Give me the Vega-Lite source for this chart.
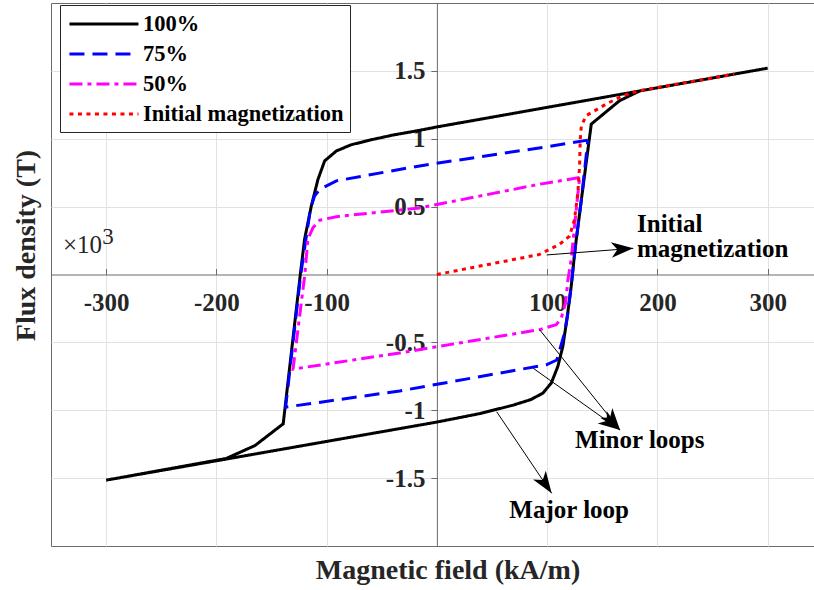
{
  "$schema": "https://vega.github.io/schema/vega-lite/v6.json",
  "width": 763,
  "height": 543,
  "autosize": {"type": "none"},
  "padding": {"left": 51, "top": 3, "right": 0, "bottom": 44},
  "config": {
    "view": {"stroke": "#6b6b6b", "strokeWidth": 1},
    "font": "Liberation Serif"
  },
  "layer": [
    {
      "data": {
        "values": [
          {"s": "100%", "i": 1, "x": 300, "y": 1.52},
          {"s": "100%", "i": 2, "x": 183.8, "y": 1.352},
          {"s": "100%", "i": 3, "x": 0, "y": 1.087},
          {"s": "100%", "i": 4, "x": -15.7, "y": 1.062},
          {"s": "100%", "i": 5, "x": -40, "y": 1.027},
          {"s": "100%", "i": 6, "x": -61, "y": 0.99},
          {"s": "100%", "i": 7, "x": -78, "y": 0.955},
          {"s": "100%", "i": 8, "x": -91.2, "y": 0.91},
          {"s": "100%", "i": 9, "x": -101.8, "y": 0.837},
          {"s": "100%", "i": 10, "x": -107.9, "y": 0.7},
          {"s": "100%", "i": 11, "x": -113.9, "y": 0.505},
          {"s": "100%", "i": 12, "x": -120, "y": 0.26},
          {"s": "100%", "i": 13, "x": -123.9, "y": 0.0},
          {"s": "100%", "i": 14, "x": -139.4, "y": -1.1},
          {"s": "100%", "i": 15, "x": -165, "y": -1.26},
          {"s": "100%", "i": 16, "x": -191, "y": -1.355},
          {"s": "100%", "i": 17, "x": -300, "y": -1.515},
          {"s": "100%", "i": 18, "x": 0, "y": -1.087},
          {"s": "100%", "i": 19, "x": 38.7, "y": -1.025},
          {"s": "100%", "i": 20, "x": 68.9, "y": -0.963},
          {"s": "100%", "i": 21, "x": 85, "y": -0.922},
          {"s": "100%", "i": 22, "x": 96.1, "y": -0.874},
          {"s": "100%", "i": 23, "x": 103.7, "y": -0.8},
          {"s": "100%", "i": 24, "x": 109.7, "y": -0.677},
          {"s": "100%", "i": 25, "x": 114.2, "y": -0.53},
          {"s": "100%", "i": 26, "x": 117.9, "y": -0.33},
          {"s": "100%", "i": 27, "x": 121.8, "y": -0.086},
          {"s": "100%", "i": 28, "x": 125.5, "y": 0.2},
          {"s": "100%", "i": 29, "x": 131, "y": 0.55},
          {"s": "100%", "i": 30, "x": 140, "y": 1.108},
          {"s": "100%", "i": 31, "x": 165.6, "y": 1.28},
          {"s": "100%", "i": 32, "x": 183.8, "y": 1.352},
          {"s": "100%", "i": 33, "x": 300, "y": 1.52},

          {"s": "75%", "i": 1, "x": 136.9, "y": 0.99},
          {"s": "75%", "i": 2, "x": 105.4, "y": 0.948},
          {"s": "75%", "i": 3, "x": -15.7, "y": 0.8},
          {"s": "75%", "i": 4, "x": -91.2, "y": 0.69},
          {"s": "75%", "i": 5, "x": -106.3, "y": 0.628},
          {"s": "75%", "i": 6, "x": -111, "y": 0.578},
          {"s": "75%", "i": 7, "x": -114.8, "y": 0.48},
          {"s": "75%", "i": 8, "x": -119.5, "y": 0.22},
          {"s": "75%", "i": 9, "x": -123.5, "y": 0.0},
          {"s": "75%", "i": 10, "x": -137.2, "y": -0.977},
          {"s": "75%", "i": 11, "x": -33.8, "y": -0.858},
          {"s": "75%", "i": 12, "x": 99.2, "y": -0.665},
          {"s": "75%", "i": 13, "x": 108.7, "y": -0.63},
          {"s": "75%", "i": 14, "x": 115.8, "y": -0.43},
          {"s": "75%", "i": 15, "x": 118.8, "y": -0.283},
          {"s": "75%", "i": 16, "x": 121.8, "y": -0.086},
          {"s": "75%", "i": 17, "x": 125.5, "y": 0.2},
          {"s": "75%", "i": 18, "x": 131, "y": 0.55},
          {"s": "75%", "i": 19, "x": 136.9, "y": 0.99},

          {"s": "50%", "i": 1, "x": 129.4, "y": 0.714},
          {"s": "50%", "i": 2, "x": 93.1, "y": 0.665},
          {"s": "50%", "i": 3, "x": -15.7, "y": 0.49},
          {"s": "50%", "i": 4, "x": -91.2, "y": 0.426},
          {"s": "50%", "i": 5, "x": -106.3, "y": 0.4},
          {"s": "50%", "i": 6, "x": -112.4, "y": 0.345},
          {"s": "50%", "i": 7, "x": -117, "y": 0.26},
          {"s": "50%", "i": 8, "x": -119.8, "y": 0.0},
          {"s": "50%", "i": 9, "x": -130.5, "y": -0.697},
          {"s": "50%", "i": 10, "x": -33.8, "y": -0.578},
          {"s": "50%", "i": 11, "x": 93.1, "y": -0.406},
          {"s": "50%", "i": 12, "x": 108.2, "y": -0.37},
          {"s": "50%", "i": 13, "x": 112.8, "y": -0.32},
          {"s": "50%", "i": 14, "x": 116.7, "y": -0.21},
          {"s": "50%", "i": 15, "x": 118.8, "y": -0.04},
          {"s": "50%", "i": 16, "x": 121.8, "y": 0.11},
          {"s": "50%", "i": 17, "x": 126, "y": 0.45},
          {"s": "50%", "i": 18, "x": 129.4, "y": 0.714},

          {"s": "Initial magnetization", "i": 1, "x": 0, "y": 0},
          {"s": "Initial magnetization", "i": 2, "x": 93.1, "y": 0.148},
          {"s": "Initial magnetization", "i": 3, "x": 111.2, "y": 0.222},
          {"s": "Initial magnetization", "i": 4, "x": 120.3, "y": 0.283},
          {"s": "Initial magnetization", "i": 5, "x": 124.8, "y": 0.406},
          {"s": "Initial magnetization", "i": 6, "x": 127.8, "y": 0.6},
          {"s": "Initial magnetization", "i": 7, "x": 129.4, "y": 0.8},
          {"s": "Initial magnetization", "i": 8, "x": 130, "y": 0.997},
          {"s": "Initial magnetization", "i": 9, "x": 131, "y": 1.095},
          {"s": "Initial magnetization", "i": 10, "x": 135.4, "y": 1.17},
          {"s": "Initial magnetization", "i": 11, "x": 153.6, "y": 1.256},
          {"s": "Initial magnetization", "i": 12, "x": 168.6, "y": 1.317},
          {"s": "Initial magnetization", "i": 13, "x": 183.8, "y": 1.354},
          {"s": "Initial magnetization", "i": 14, "x": 269.7, "y": 1.477}
        ]
      },
      "mark": {"type": "line", "strokeWidth": 3, "clip": true},
      "encoding": {
        "x": {
          "field": "x",
          "type": "quantitative",
          "scale": {"domain": [-350, 342], "nice": false, "zero": false},
          "axis": {
            "title": "Magnetic field (kA/m)",
            "values": [-300, -200, -100, 100, 200, 300],
            "labelExpr": "'' + datum.value",
            "offset": -271.5,
            "grid": true,
            "gridColor": "#e2e2e2",
            "gridWidth": 1,
            "domainColor": "#6b6b6b",
            "domainWidth": 1,
            "tickColor": "#6b6b6b",
            "tickSize": -6,
            "labelFont": "Liberation Serif",
            "labelFontSize": 25,
            "labelFontWeight": "bold",
            "labelColor": "#262626",
            "labelBaseline": "alphabetic",
            "labelPadding": 41.5,
            "labelFlush": false,
            "labelOverlap": false,
            "titleFont": "Liberation Serif",
            "titleFontSize": 28,
            "titleFontWeight": "bold",
            "titleColor": "#262626",
            "titleX": 396.5,
            "titleY": 303.5,
            "titleBaseline": "alphabetic",
            "titleAlign": "center"
          }
        },
        "y": {
          "field": "y",
          "type": "quantitative",
          "scale": {"domain": [-2, 2], "nice": false, "zero": false},
          "axis": {
            "title": "Flux density (T)",
            "values": [-1.5, -1, -0.5, 0.5, 1, 1.5],
            "labelExpr": "'' + datum.value",
            "offset": -385.9,
            "grid": true,
            "gridColor": "#e2e2e2",
            "gridWidth": 1,
            "domainColor": "#6b6b6b",
            "domainWidth": 1,
            "tickColor": "#6b6b6b",
            "tickSize": 6,
            "labelFont": "Liberation Serif",
            "labelFontSize": 25,
            "labelFontWeight": "bold",
            "labelColor": "#262626",
            "labelAlign": "right",
            "labelBaseline": "middle",
            "labelPadding": 6,
            "labelFlush": false,
            "labelOverlap": false,
            "titleFont": "Liberation Serif",
            "titleFontSize": 28,
            "titleFontWeight": "bold",
            "titleColor": "#262626",
            "titleAngle": -90,
            "titleX": -402,
            "titleY": 242,
            "titleBaseline": "alphabetic",
            "titleAlign": "center"
          }
        },
        "order": {"field": "i", "type": "quantitative"},
        "color": {
          "field": "s",
          "type": "nominal",
          "scale": {
            "domain": ["100%", "75%", "50%", "Initial magnetization"],
            "range": ["#000000", "#0000ff", "#ff00ff", "#ff0000"]
          },
          "legend": {
            "orient": "none",
            "legendX": 9,
            "legendY": 2,
            "title": null,
            "symbolType": "M-0.83,0L5.17,0",
            "symbolSize": 529,
            "symbolStrokeWidth": 3,
            "labelFont": "Liberation Serif",
            "labelFontSize": 22.5,
            "labelFontWeight": "bold",
            "labelColor": "#000000",
            "labelOffset": 51,
            "labelLimit": 400,
            "padding": 6,
            "rowPadding": 5,
            "strokeColor": "#262626",
            "fillColor": "#ffffff"
          }
        },
        "strokeDash": {
          "field": "s",
          "type": "nominal",
          "scale": {
            "domain": ["100%", "75%", "50%", "Initial magnetization"],
            "range": [[1, 0], [15, 8], [13, 5, 4, 5], [4, 4.5]]
          },
          "legend": {
            "orient": "none",
            "legendX": 9,
            "legendY": 2,
            "title": null,
            "symbolType": "M-0.83,0L5.17,0",
            "symbolSize": 529,
            "symbolStrokeWidth": 3,
            "labelFont": "Liberation Serif",
            "labelFontSize": 22.5,
            "labelFontWeight": "bold",
            "labelColor": "#000000",
            "labelOffset": 51,
            "labelLimit": 400,
            "padding": 6,
            "rowPadding": 5,
            "strokeColor": "#262626",
            "fillColor": "#ffffff"
          }
        }
      }
    },
    {
      "data": {
        "values": [
          {"x1": 99.6, "y1": 0.144, "x2": 178.1, "y2": 0.193, "angle": 85.6},
          {"x1": 93.1, "y1": -0.406, "x2": 166.1, "y2": -1.146, "angle": 141.3},
          {"x1": 87.4, "y1": -0.691, "x2": 166.1, "y2": -1.146, "angle": 125.4},
          {"x1": 54.2, "y1": -1.011, "x2": 104.1, "y2": -1.612, "angle": 146.0}
        ]
      },
      "layer": [
        {
          "mark": {"type": "rule", "color": "#000000", "strokeWidth": 1},
          "encoding": {
            "x": {"field": "x1", "type": "quantitative"},
            "y": {"field": "y1", "type": "quantitative"},
            "x2": {"field": "x2"},
            "y2": {"field": "y2"}
          }
        },
        {
          "mark": {
            "type": "point",
            "shape": "M0,0 L0.7,2 L0,1.45 L-0.7,2 Z",
            "filled": true,
            "color": "#000000",
            "opacity": 1,
            "size": 484,
            "strokeWidth": 0
          },
          "encoding": {
            "x": {"field": "x2", "type": "quantitative"},
            "y": {"field": "y2", "type": "quantitative"},
            "angle": {"field": "angle", "type": "quantitative", "scale": null}
          }
        }
      ]
    },
    {
      "data": {
        "values": [
          {"t": "Initial", "x": 181.5, "y": 0.313},
          {"t": "magnetization", "x": 181.5, "y": 0.129},
          {"t": "Minor loops", "x": 125.3, "y": -1.278},
          {"t": "Major loop", "x": 65.7, "y": -1.796}
        ]
      },
      "mark": {
        "type": "text",
        "font": "Liberation Serif",
        "fontSize": 25,
        "fontWeight": "bold",
        "color": "#000000",
        "align": "left",
        "baseline": "alphabetic"
      },
      "encoding": {
        "x": {"field": "x", "type": "quantitative"},
        "y": {"field": "y", "type": "quantitative"},
        "text": {"field": "t"}
      }
    },
    {
      "data": {"values": [{"t": "×10", "x": -339.1, "y": 0.158}]},
      "mark": {
        "type": "text",
        "font": "Liberation Serif",
        "fontSize": 25,
        "color": "#262626",
        "align": "left",
        "baseline": "alphabetic"
      },
      "encoding": {
        "x": {"field": "x", "type": "quantitative"},
        "y": {"field": "y", "type": "quantitative"},
        "text": {"field": "t"}
      }
    },
    {
      "data": {"values": [{"t": "3", "x": -303.5, "y": 0.222}]},
      "mark": {
        "type": "text",
        "font": "Liberation Serif",
        "fontSize": 23,
        "color": "#262626",
        "align": "left",
        "baseline": "alphabetic"
      },
      "encoding": {
        "x": {"field": "x", "type": "quantitative"},
        "y": {"field": "y", "type": "quantitative"},
        "text": {"field": "t"}
      }
    }
  ]
}
